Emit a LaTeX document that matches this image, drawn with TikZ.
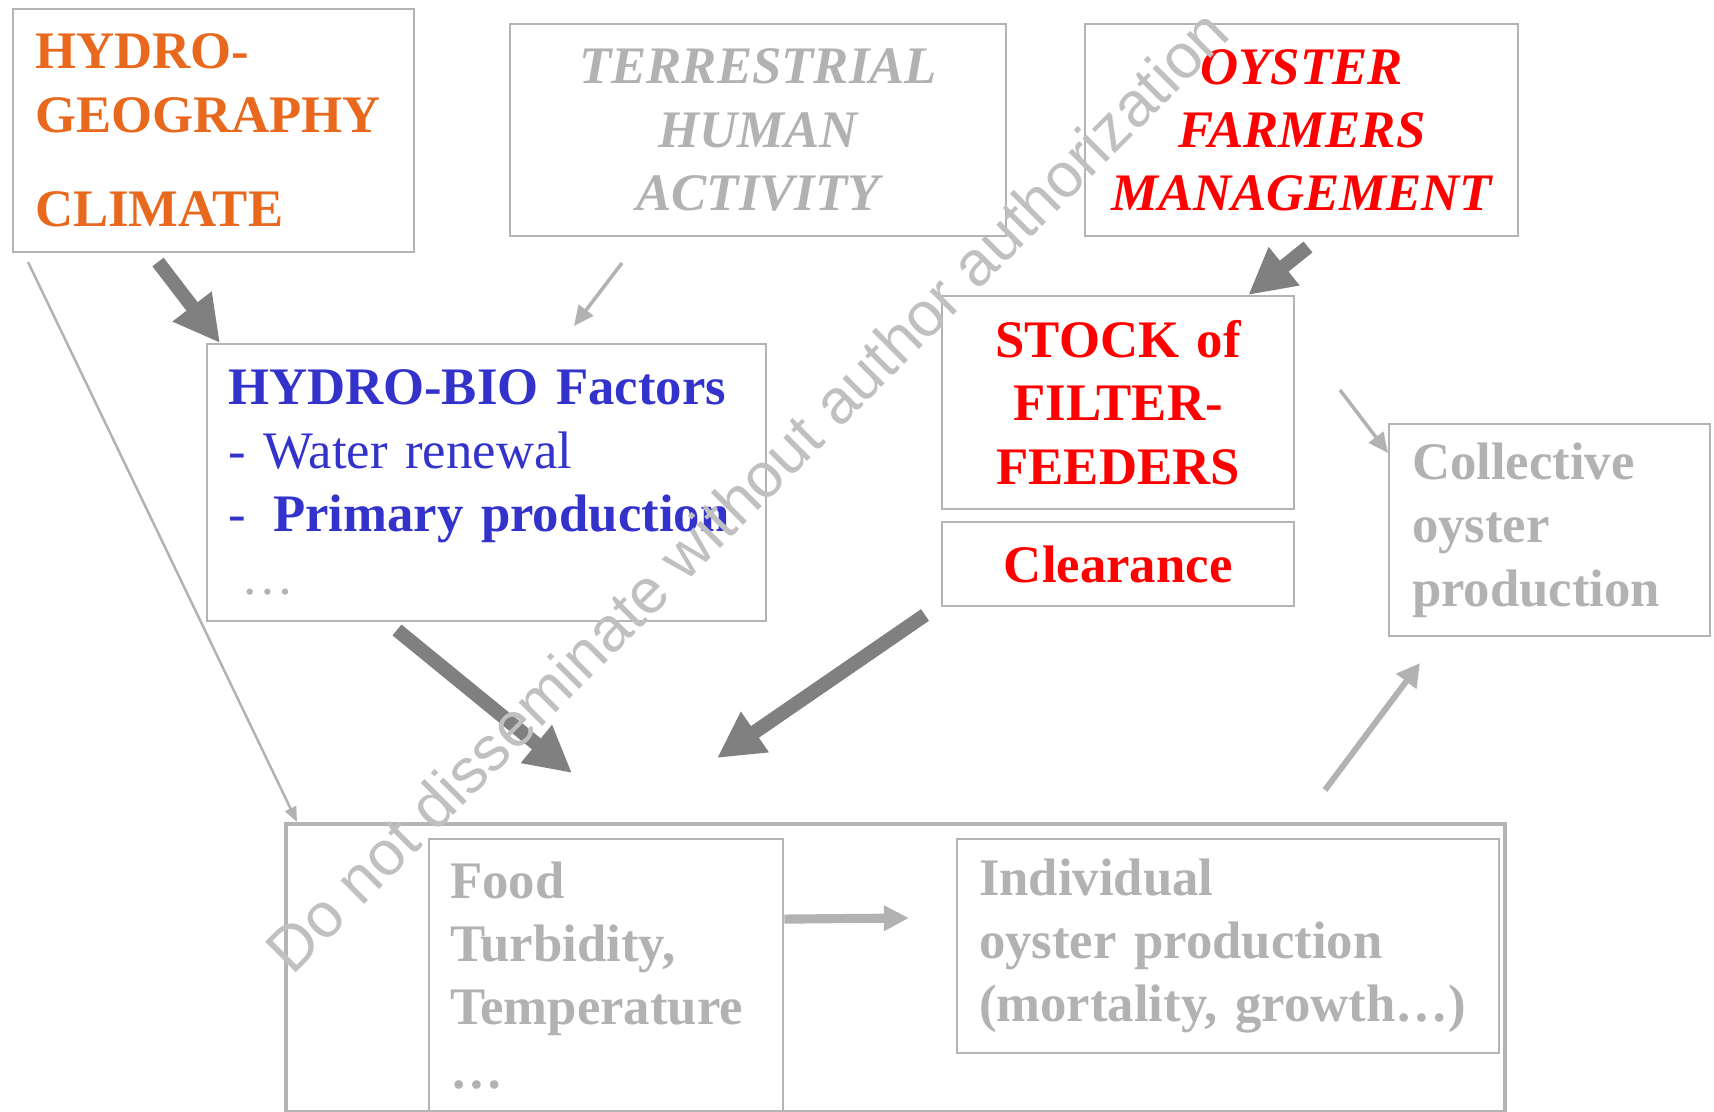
\documentclass[tikz,border=0pt]{standalone}
\usepackage{fontspec}
\setmainfont{Liberation Serif}
\newfontfamily\marksans{Liberation Sans}
\usetikzlibrary{arrows.meta, positioning}

\definecolor{geoorange}{HTML}{E8691E}
\definecolor{bioblue}{HTML}{3333CC}
\definecolor{farmred}{HTML}{FF0000}
\definecolor{fadegray}{HTML}{B2B2B2}
\definecolor{framegray}{HTML}{B4B4B4}
\definecolor{arrowgray}{HTML}{808080}
\definecolor{markgray}{HTML}{C0C0C0}

\newcommand{\panelfont}{\fontsize{15}{18}\selectfont\bfseries}

\tikzset{
  panel/.style={draw=framegray, line width=0.6pt, inner ysep=0pt, inner xsep=0.21cm,
                font=\panelfont},
  slanted/.style={font=\panelfont\itshape},
  bigflow/.style={draw=arrowgray, line width=4pt, -{Triangle[length=0.46cm, width=0.46cm]}},
  thinflow/.style={draw=fadegray, line width=1pt, -{Triangle[length=0.2cm, width=0.18cm]}},
}

\begin{document}
\begin{tikzpicture}[x=0.01cm, y=-0.01cm]
  \useasboundingbox (0,0) rectangle (1714,1112);

  % Upper row
  \node[panel, anchor=north west, minimum height=2.43cm, inner xsep=0.22cm, text width=3.57cm,
        align=left, text=geoorange] (geo) at (12,8) {HYDRO-\\GEOGRAPHY\\[9pt]CLIMATE};
  \node[panel, slanted, anchor=north west, minimum height=2.12cm, inner xsep=0.2cm, text width=4.56cm,
        align=center, text=fadegray] (land) at (509,23) {TERRESTRIAL\\HUMAN\\ACTIVITY};
  \node[panel, slanted, anchor=north west, minimum height=2.12cm, inner xsep=0.2cm, text width=3.93cm,
        align=center, text=farmred] (farmers) at (1084,23) {OYSTER\\FARMERS\\MANAGEMENT};

  % Middle row
  \node[panel, anchor=north west, minimum height=2.77cm, text width=5.17cm, align=left,
        text=bioblue] (hydrobio) at (206,343)
        {HYDRO-BIO Factors\\\textmd{- Water renewal}\\\textmd{-}\hspace{0.275cm}Primary production\\
         \textcolor{fadegray}{\mdseries\hspace*{0.13cm}…}};
  \node[panel, anchor=north west, minimum height=2.13cm, inner xsep=0.2cm, text width=3.12cm,
        align=center, text=farmred] (stock) at (941,295) {STOCK of\\FILTER-\\FEEDERS};
  \node[panel, minimum height=0.84cm, inner xsep=0.2cm, text width=3.12cm, align=center,
        text=farmred] (clearance) [below=0.11cm of stock] {Clearance};
  \node[panel, anchor=north west, minimum height=2.12cm, inner xsep=0.23cm, text width=2.75cm,
        align=left, text=fadegray] (collective) at (1388,423) {Collective\\oyster\\production};

  % Lower block
  \node[draw=framegray, line width=1.1pt, inner sep=0pt, anchor=north west,
        minimum width=12.18cm, minimum height=2.88cm] (pond) at (284,822) {};
  \node[panel, anchor=north west, minimum height=2.72cm, text width=3.12cm, align=left,
        text=fadegray] (food) at (428,838) {Food\\Turbidity,\\Temperature\\…};
  \node[panel, anchor=north west, minimum height=2.14cm, inner xsep=0.22cm, text width=4.98cm,
        align=left, text=fadegray] (individual) at (956,838)
        {Individual\\oyster production\\(mortality, growth…)};

  % Free ends of the arrows
  \coordinate (geo-foot)   at (158,262);
  \coordinate (land-foot)  at (622,263);
  \coordinate (land-tip)   at (574,326);
  \coordinate (farm-foot)  at (1308,247);
  \coordinate (side-foot)  at (28,262);
  \coordinate (bio-foot)   at (397,630);
  \coordinate (bio-tip)    at (572,773);
  \coordinate (clear-foot) at (925,615);
  \coordinate (clear-tip)  at (717,758);
  \coordinate (stock-foot) at (1340,390);
  \coordinate (pond-foot)  at (1325,790);
  \coordinate (pond-tip)   at (1420,663);
  \coordinate (food-tip)   at (909,918);

  % Arrows
  \draw[bigflow] (geo-foot) -- ([xshift=0.14cm]hydrobio.north west);
  \draw[bigflow] (farm-foot) -- ([xshift=-0.47cm]stock.north east);
  \draw[bigflow] (bio-foot) -- (bio-tip);
  \draw[bigflow] (clear-foot) -- (clear-tip);
  \draw[thinflow] (land-foot) -- (land-tip);
  \draw[thinflow] (stock-foot) -- ([yshift=-0.3cm]collective.north west);
  \draw[thinflow, line width=0.7pt, -{Triangle[length=0.15cm, width=0.12cm]}]
       (side-foot) -- ([xshift=0.13cm]pond.north west);
  \draw[thinflow, line width=1.7pt, -{Triangle[length=0.23cm, width=0.24cm]}] (pond-foot) -- (pond-tip);
  \draw[thinflow, line width=2.6pt, -{Triangle[length=0.25cm, width=0.24cm]}]
       ([yshift=0.56cm]food.east) -- (food-tip);

  % Watermark
  \node[font=\marksans\fontsize{17.9}{17.9}\selectfont, text=markgray, rotate=45,
        anchor=base west, inner sep=0pt] (mark) at (292,977)
        {Do not disseminate without author authorization};
\end{tikzpicture}
\end{document}
